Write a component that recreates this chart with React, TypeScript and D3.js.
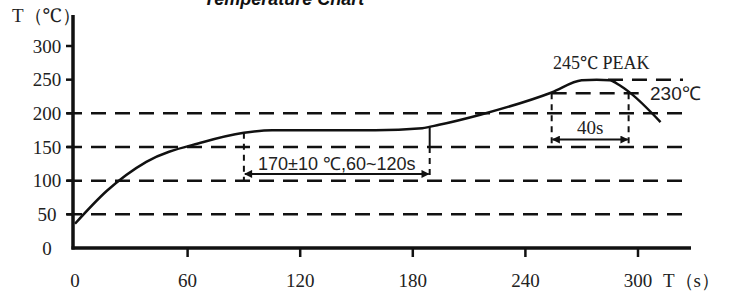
import * as d3 from "d3";

// reflow profile: time (s) -> temperature (°C)
const profileTime = [0, 17, 38, 68, 90, 105, 160, 185, 194, 216, 254, 270, 278, 285, 290, 296, 312];
const profileTemp = [36, 85, 128, 157, 171, 175, 175, 178, 183, 198, 231, 249, 250, 249, 242, 230, 187];

const xTicks = [0, 60, 120, 180, 240, 300];
const yTicks = [0, 50, 100, 150, 200, 250, 300];
const gridLevels = [50, 100, 150, 200];

// annotations
const soakStart = 90;
const soakEnd = 189;
const soakLabel = "170±10 ℃,60~120s";
const peakStart = 254;
const peakEnd = 295;
const peakLevel = 250;
const liquidus = 230;

const W = 730;
const H = 292;

export default function App() {
  const x = d3.scaleLinear().domain([0, 300]).range([75, 638]);
  const y = d3.scaleLinear().domain([0, 300]).range([248, 46]);

  const pts: [number, number][] = profileTime.map((t, i) => [t, profileTemp[i]]);
  const line = d3
    .line<[number, number]>()
    .x((d) => x(d[0]))
    .y((d) => y(d[1]))
    .curve(d3.curveMonotoneX);

  const tempAt = (t: number) => {
    const i = d3.bisectLeft(profileTime, t);
    if (i <= 0) return profileTemp[0];
    const t0 = profileTime[i - 1], t1 = profileTime[i];
    const k = (t - t0) / (t1 - t0);
    return profileTemp[i - 1] * (1 - k) + profileTemp[i] * k;
  };

  const dash = "15,9";
  const serif = "'Liberation Serif', 'Noto Serif', serif";
  const sans = "'Liberation Sans', Arial, sans-serif";
  const ink = "#111";

  const soakArrowY = y(110);
  const peakArrowY = y(161);

  return (
    <div style={{ position: "absolute", left: 0, top: 0 }}>
      <svg width={W} height={H} style={{ display: "block", background: "#fff" }}>
        <defs>
          <marker id="ah" viewBox="0 0 10 10" refX="9" refY="5" markerWidth="9" markerHeight="8" orient="auto-start-reverse" markerUnits="userSpaceOnUse">
            <path d="M0,0 L10,5 L0,10 z" fill={ink} />
          </marker>
        </defs>

        <text x={284} y={5} textAnchor="middle" fontFamily={sans} fontWeight="bold" fontStyle="italic" fontSize={18} fill={ink}>
          Temperature Chart
        </text>

        {/* grid dashed levels */}
        {gridLevels.map((v) => (
          <line key={v} x1={67} x2={688} y1={y(v)} y2={y(v)} stroke={ink} strokeWidth={2.5} strokeDasharray={dash} />
        ))}

        {/* axes */}
        <line x1={73} x2={73} y1={15} y2={249.5} stroke={ink} strokeWidth={3.5} />
        <line x1={71.5} x2={691} y1={248} y2={248} stroke={ink} strokeWidth={3.5} />
        {yTicks.filter((v) => v > 0).map((v) => (
          <line key={v} x1={66} x2={73} y1={y(v)} y2={y(v)} stroke={ink} strokeWidth={2.5} />
        ))}
        {yTicks.map((v) => (
          <text key={v} x={47} y={y(v)} dy="0.35em" textAnchor="middle" fontFamily={serif} fontSize={19} fill="#222">
            {v}
          </text>
        ))}
        {xTicks.filter((v) => v > 0).map((v) => (
          <line key={v} x1={x(v)} x2={x(v)} y1={248} y2={257} stroke={ink} strokeWidth={2.5} />
        ))}
        {xTicks.map((v) => (
          <text key={v} x={x(v)} y={280} dy="0.35em" textAnchor="middle" fontFamily={serif} fontSize={19} fill="#222">
            {v}
          </text>
        ))}
        <text x={12} y={15} dy="0.35em" fontFamily={serif} fontSize={19} fill="#222">T（℃）</text>
        <text x={663} y={280} dy="0.35em" fontFamily={serif} fontSize={19} fill="#222">T（s）</text>

        {/* soak annotation */}
        <line x1={x(soakStart)} x2={x(soakStart)} y1={y(tempAt(soakStart))} y2={y(100)} stroke={ink} strokeWidth={2} strokeDasharray="6,5" />
        <line x1={x(soakEnd)} x2={x(soakEnd)} y1={y(tempAt(soakEnd))} y2={y(150)} stroke={ink} strokeWidth={2} />
        <line x1={x(soakEnd)} x2={x(soakEnd)} y1={y(150)} y2={y(100)} stroke={ink} strokeWidth={2} strokeDasharray="6,5" />
        <line x1={x(soakStart) + 1} x2={x(soakEnd) - 1} y1={soakArrowY} y2={soakArrowY} stroke={ink} strokeWidth={2} markerStart="url(#ah)" markerEnd="url(#ah)" />
        <text x={(x(soakStart) + x(soakEnd)) / 2} y={soakArrowY - 4} textAnchor="middle" fontFamily={sans} fontSize={18} fill="#222">
          {soakLabel}
        </text>

        {/* peak annotation */}
        <line x1={x(284)} x2={683} y1={y(peakLevel)} y2={y(peakLevel)} stroke={ink} strokeWidth={2.5} strokeDasharray={dash} />
        <line x1={x(peakStart)} x2={640} y1={y(liquidus)} y2={y(liquidus)} stroke={ink} strokeWidth={2.5} strokeDasharray={dash} />
        <line x1={x(peakStart)} x2={x(peakStart)} y1={y(liquidus)} y2={y(150)} stroke={ink} strokeWidth={2} strokeDasharray="6,5" />
        <line x1={x(peakEnd)} x2={x(peakEnd)} y1={y(liquidus)} y2={y(150)} stroke={ink} strokeWidth={2} strokeDasharray="6,5" />
        <line x1={x(peakStart) + 1} x2={x(peakEnd) - 1} y1={peakArrowY} y2={peakArrowY} stroke={ink} strokeWidth={2} markerStart="url(#ah)" markerEnd="url(#ah)" />
        <text x={(x(peakStart) + x(peakEnd)) / 2} y={peakArrowY - 12} dy="0.35em" textAnchor="middle" fontFamily={serif} fontSize={19} fill="#222">
          40s
        </text>
        <text x={553} y={63} dy="0.35em" fontFamily={serif} fontSize={18} fill="#222">245℃ PEAK</text>
        <text x={650} y={y(liquidus)} dy="0.35em" fontFamily={sans} fontSize={19} fill="#222">230℃</text>

        {/* profile curve */}
        <path d={line(pts) ?? ""} fill="none" stroke={ink} strokeWidth={2.5} strokeLinejoin="round" />
      </svg>
    </div>
  );
}
